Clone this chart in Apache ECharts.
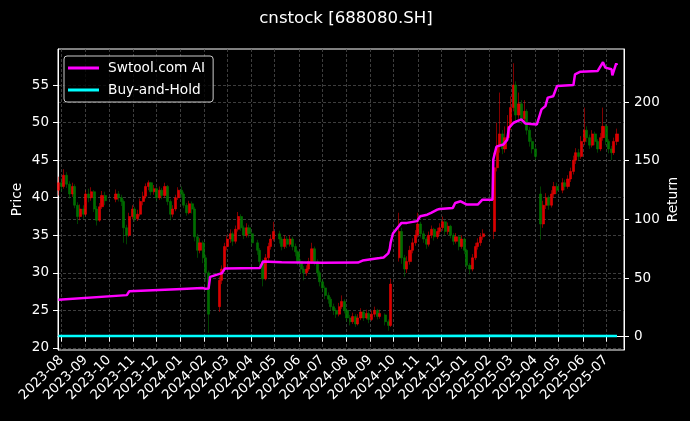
<!DOCTYPE html>
<html><head><meta charset="utf-8">
<script src="https://cdn.jsdelivr.net/npm/echarts@6/dist/echarts.min.js"></script>
<style>html,body{margin:0;padding:0;background:#000;}#c{width:690px;height:421px;}</style>
</head><body><div id="c"></div>
<script>
// ---- tick labels ----
const monthTicks = ['2023-08','2023-09','2023-10','2023-11','2023-12','2024-01','2024-02','2024-03','2024-04','2024-05','2024-06','2024-07','2024-08','2024-09','2024-10','2024-11','2024-12','2025-01','2025-02','2025-03','2025-04','2025-05','2025-06','2025-07'];
const priceTicks = [20, 25, 30, 35, 40, 45, 50, 55];
const returnTicks = [0, 50, 100, 150, 200];

// ---- price candles: two sessions a week (Fri, Tue, Fri, ...) from 2023-07-28; null = market closed
// [open, close, low, high]
const ohlc = [
/*0*/ [41.0,42.0,40.3,42.8],[42.0,41.5,40.8,42.6],[41.5,43.0,41.2,43.8],[43.0,41.8,41.3,43.4],[41.8,40.5,39.9,42.2],
/*5*/ [40.5,41.5,40.1,42.0],[41.5,39.0,38.6,41.8],[39.0,37.5,36.5,39.4],[37.5,38.5,37.0,39.1],[38.5,37.8,37.2,39.0],
/*10*/[37.8,40.5,37.6,41.0],[40.5,40.0,39.4,41.2],[40.0,40.8,39.6,41.4],[40.8,38.5,38.1,41.0],[38.5,37.0,36.3,38.9],
/*15*/[37.0,38.8,36.8,39.3],[38.8,40.3,38.5,40.9],[40.3,39.6,39.0,40.8],null,null,
/*20*/null,[39.8,40.5,39.4,41.1],[40.5,40.0,39.5,40.9],[40.0,39.5,38.9,40.4],[39.5,36.0,34.0,39.8],
/*25*/[36.0,35.0,33.8,36.4],[35.0,37.5,34.8,38.0],[37.5,38.5,37.1,39.0],[38.5,37.2,36.8,38.8],[37.2,37.8,36.9,38.4],
/*30*/[37.8,39.5,37.5,39.9],[39.5,40.2,39.0,40.8],[40.2,41.5,39.9,41.9],[41.5,42.0,41.0,42.3],[42.0,40.8,40.3,42.1],
/*35*/[40.8,41.2,40.4,41.7],[41.2,40.0,39.6,41.4],[40.0,41.0,39.7,41.5],[41.0,40.3,39.8,41.3],[40.3,41.5,40.0,42.0],
/*40*/[41.5,39.5,39.0,41.7],[39.5,37.8,37.0,39.8],[37.8,38.5,37.4,39.0],[38.5,40.0,38.2,40.4],[40.0,41.0,39.7,41.4],
/*45*/[41.0,40.5,40.0,41.5],[40.5,39.0,38.6,40.8],[39.0,38.0,37.6,39.3],[38.0,39.2,37.8,39.6],[39.2,38.5,37.9,39.5],
/*50*/[38.5,34.8,34.2,38.8],[34.8,33.0,32.0,35.2],[33.0,34.0,32.6,34.6],[34.0,32.0,31.3,34.3],[32.0,30.0,28.8,32.4],
/*55*/[30.0,24.5,22.0,30.3],null,null,null,[25.5,29.0,24.8,29.5],
/*60*/[29.0,30.5,28.5,31.0],[30.5,33.5,30.2,34.0],[33.5,34.5,33.0,35.0],[34.5,35.2,34.0,35.8],[35.2,34.2,33.6,35.5],
/*65*/[34.2,35.8,33.9,36.3],[35.8,37.5,35.5,38.1],[37.5,36.0,35.6,37.8],[36.0,35.0,34.5,36.3],[35.0,36.0,34.7,36.6],
/*70*/[36.0,35.2,34.7,36.4],[35.2,34.0,33.5,35.5],null,[34.0,33.0,32.4,34.4],[33.0,31.5,30.8,33.3],
/*75*/[31.5,29.2,28.2,31.8],[29.2,32.0,29.0,32.5],[32.0,33.5,31.6,34.0],[33.5,34.5,33.1,35.1],[34.5,35.5,34.2,36.8],
/*80*/null,[35.2,34.5,33.9,35.6],[34.5,33.5,33.0,34.8],[33.5,34.5,33.2,35.0],[34.5,33.8,33.3,34.9],
/*85*/[33.8,34.5,33.5,35.0],[34.5,33.5,33.0,34.8],[33.5,32.8,32.2,33.9],[32.8,31.5,31.0,33.0],[31.5,30.5,29.9,31.8],
/*90*/[30.5,30.0,29.0,30.9],[30.0,30.5,29.6,31.0],[30.5,31.5,30.2,32.0],[31.5,33.2,31.2,34.0],[33.2,31.5,31.0,33.5],
/*95*/[31.5,30.0,29.5,31.8],[30.0,28.8,28.2,30.3],[28.8,28.0,27.4,29.2],[28.0,27.0,26.5,28.3],[27.0,26.5,25.9,27.4],
/*100*/[26.5,25.5,25.0,26.8],[25.5,25.0,24.4,25.9],[25.0,24.5,24.0,25.3],[24.5,25.5,24.2,26.0],[25.5,26.2,25.2,27.0],
/*105*/[26.2,25.0,24.6,26.5],[25.0,24.0,23.5,25.3],[24.0,23.5,23.0,24.4],[23.5,24.2,23.2,24.7],[24.2,23.2,22.8,24.5],
/*110*/[23.2,24.0,23.0,24.5],[24.0,24.8,23.7,25.3],[24.8,24.0,23.6,25.0],[24.0,24.6,23.8,25.1],[24.6,23.8,23.3,24.9],
/*115*/[23.8,24.5,23.6,25.0],[24.5,25.0,24.1,25.5],[25.0,24.2,23.8,25.2],[24.2,24.6,23.9,25.1],null,
/*120*/[24.4,23.5,23.0,24.6],[23.5,23.0,22.3,23.8],[23.0,28.5,22.8,29.2],null,null,
/*125*/[32.0,35.5,31.5,38.0],[35.5,32.0,31.2,36.0],[32.0,30.5,29.5,32.4],[30.5,31.5,30.0,32.2],[31.5,33.0,31.1,33.6],
/*130*/[33.0,34.0,32.6,34.6],[34.0,35.0,33.6,35.7],[35.0,36.5,34.7,38.0],[36.5,35.2,34.7,36.8],[35.2,34.5,34.0,35.6],
/*135*/[34.5,33.8,33.2,34.8],[33.8,35.0,33.5,35.5],[35.0,35.8,34.6,36.3],[35.8,34.8,34.3,36.0],[34.8,35.5,34.5,36.0],
/*140*/[35.5,36.0,35.1,36.6],[36.0,36.8,35.6,37.5],[36.8,35.5,35.0,37.0],[35.5,36.2,35.1,36.7],[36.2,35.0,34.6,36.4],
/*145*/[35.0,34.2,33.7,35.3],[34.2,34.8,33.9,35.3],[34.8,33.5,33.0,35.0],[33.5,34.5,33.2,35.0],[34.5,33.0,32.5,34.7],
/*150*/[33.0,31.0,30.5,33.2],[31.0,30.5,29.8,31.3],[30.5,32.0,30.2,32.5],[32.0,33.5,31.7,34.0],[33.5,34.0,33.1,34.6],
/*155*/[34.0,34.8,33.6,35.3],[34.8,35.2,34.4,35.8],null,null,null,
/*160*/[35.5,44.0,34.5,46.0],[44.0,47.0,43.5,50.0],[47.0,48.5,46.0,54.0],[48.5,46.5,45.8,49.0],[46.5,48.0,46.0,49.5],
/*165*/[48.0,49.5,47.5,51.0],[49.5,52.0,49.0,53.5],[52.0,55.0,51.5,57.9],[55.0,51.0,50.2,55.5],[51.0,52.5,50.5,54.0],
/*170*/[52.5,50.5,49.8,53.0],[50.5,51.5,49.9,53.0],[51.5,49.0,48.4,51.8],[49.0,47.5,46.8,49.4],[47.5,46.5,45.9,48.0],
/*175*/[46.5,45.5,45.0,47.0],null,[40.5,36.5,34.4,41.5],[36.5,39.0,36.0,39.6],[39.0,40.0,38.5,40.6],
/*180*/[40.0,39.0,38.4,40.3],[39.0,40.5,38.7,41.0],[40.5,41.5,40.0,42.1],[41.5,41.0,40.5,42.0],null,
/*185*/[41.0,42.0,40.6,42.6],[42.0,41.5,41.0,42.4],[41.5,42.5,41.2,43.0],[42.5,43.5,42.1,44.0],[43.5,45.0,43.1,45.6],
/*190*/[45.0,46.0,44.5,46.6],[46.0,45.5,45.0,46.5],[45.5,47.5,45.2,48.2],[47.5,49.0,47.0,52.0],[49.0,48.0,47.4,49.5],
/*195*/[48.0,47.0,46.5,48.4],[47.0,48.5,46.7,49.0],[48.5,47.5,47.0,48.8],[47.5,46.5,46.0,47.8],[46.5,48.0,46.2,48.6],
/*200*/[48.0,49.5,47.6,52.0],[49.5,47.5,47.0,49.8],[47.5,46.5,45.9,47.8],[46.5,46.0,45.0,46.9],[46.0,47.5,45.7,48.0],
/*205*/[47.5,48.5,47.0,49.2]
];

// ---- strategy return (%), read at its turning points ----
const aiReturn = [
['2023-07-28',31.4],['2023-10-24',35.4],['2023-10-27',38.6],['2023-12-27',40.5],['2023-12-29',41.6],
['2024-01-29',41.4],['2024-02-02',40.8],['2024-02-06',41.0],['2024-02-08',51.0],['2024-02-20',53.5],
['2024-02-23',54.0],['2024-02-27',58.0],['2024-04-12',58.5],['2024-04-16',64.0],['2024-05-10',63.5],
['2024-07-01',63.0],['2024-08-16',63.2],['2024-08-22',64.9],['2024-09-13',67.0],['2024-09-18',67.5],
['2024-09-24',71.0],['2024-09-26',75.0],['2024-09-27',80.0],['2024-09-30',88.0],['2024-10-08',94.5],
['2024-10-11',97.0],['2024-10-18',97.0],['2024-10-31',98.5],['2024-11-04',102.6],['2024-11-13',104.0],
['2024-11-18',105.5],['2024-11-26',108.3],['2024-11-29',108.9],['2024-12-16',109.8],['2024-12-19',114.0],
['2024-12-26',115.4],['2025-01-03',112.6],['2025-01-17',112.6],['2025-01-23',116.8],['2025-02-05',116.8],
['2025-02-06',151.0],['2025-02-10',162.0],['2025-02-19',163.8],['2025-02-24',168.0],['2025-02-26',178.0],
['2025-03-04',182.4],['2025-03-14',185.2],['2025-03-19',181.8],['2025-04-03',181.0],['2025-04-09',193.8],
['2025-04-14',196.6],['2025-04-17',203.8],['2025-04-24',205.0],['2025-04-29',213.7],['2025-05-20',214.5],
['2025-05-22',223.7],['2025-05-29',226.0],['2025-06-20',226.5],['2025-06-27',234.0],['2025-06-30',229.4],
['2025-07-08',228.0],['2025-07-09',222.8],['2025-07-11',224.0],['2025-07-14',233.0],['2025-07-15',231.4]
];

// ---- buy-and-hold return ----
const bhReturn = [
['2023-07-28',0.6],['2024-02-06',0.5],['2024-09-30',0.5],['2025-02-06',0.7],['2025-07-15',0.6]
];

const ts = s => { const p = s.split('-').map(Number); return new Date(p[0], p[1] - 1, p[2] || 1).getTime(); };
function sessionDate(i) {
  const d = new Date(2023, 6, 28);
  d.setDate(d.getDate() + Math.floor(i / 2) * 7 + (i % 2 ? 4 : 0));
  return d.getTime();
}
const candleData = [];
ohlc.forEach((v, i) => { if (v) candleData.push([sessionDate(i), v[0], v[1], v[2], v[3]]); });
const aiData = aiReturn.map(p => [ts(p[0]), p[1]]);
const bhData = bhReturn.map(p => [ts(p[0]), p[1]]);

const monthValues = monthTicks.map(ts);
const pad2 = n => (n < 10 ? '0' : '') + n;
const fmtMonth = v => { const d = new Date(v); return d.getFullYear() + '-' + pad2(d.getMonth() + 1); };

const FONT = 'DejaVu Sans';
const gridLine = { show: true, lineStyle: { color: '#4d4d4d', width: 0.8, type: [3, 2] } };

const chart = echarts.init(document.getElementById('c'), null, { renderer: 'canvas' });
chart.setOption({
  backgroundColor: '#000',
  animation: false,
  textStyle: { fontFamily: FONT },
  title: {
    text: 'cnstock [688080.SH]', left: 341, top: 5, textAlign: 'center',
    textStyle: { color: '#fff', fontSize: 16.6, fontWeight: 'normal', fontFamily: FONT }
  },
  legend: {
    data: ['Swtool.com AI', 'Buy-and-Hold'],
    orient: 'vertical', left: 64, top: 56,
    padding: [4, 8, 4, 4], itemGap: 6,
    itemWidth: 31, itemHeight: 3, icon: 'rect',
    backgroundColor: 'rgba(0,0,0,0.8)', borderColor: '#cccccc', borderWidth: 1, borderRadius: 3,
    textStyle: { color: '#fff', fontSize: 13.7, fontFamily: FONT, padding: [0, 0, 0, 4], lineHeight: 16 }
  },
  grid: { left: 58, right: 66, top: 49, bottom: 71, containLabel: false, outerBoundsMode: 'none',
          show: true, borderColor: '#fff', borderWidth: 1, backgroundColor: 'transparent' },
  xAxis: {
    type: 'value',
    min: new Date(2023, 6, 27, 12).getTime(),
    max: new Date(2025, 6, 24).getTime(),
    axisLine: { show: true, lineStyle: { color: '#fff', width: 1 } },
    axisTick: { show: true, customValues: monthValues, length: 5, inside: false, lineStyle: { color: '#fff' } },
    axisLabel: { customValues: monthValues, rotate: 45, margin: 8, color: '#fff', fontSize: 13.5, fontFamily: FONT, formatter: fmtMonth },
    splitLine: gridLine
  },
  yAxis: [
    {
      type: 'value', position: 'left', min: 19.73, max: 59.8,
      name: 'Price', nameLocation: 'middle', nameGap: 34, nameRotate: 90, nameMoveOverlap: false,
      nameTextStyle: { color: '#fff', fontSize: 13.7, fontFamily: FONT },
      axisLine: { show: true, lineStyle: { color: '#fff' } },
      axisTick: { show: true, customValues: priceTicks, length: 5, lineStyle: { color: '#fff' } },
      axisLabel: { customValues: priceTicks, margin: 9, color: '#fff', fontSize: 13.5, fontFamily: FONT },
      splitLine: gridLine
    },
    {
      type: 'value', position: 'right', min: -11.4, max: 245.3,
      name: 'Return', nameLocation: 'middle', nameGap: 42, nameRotate: 90, nameMoveOverlap: false,
      nameTextStyle: { color: '#fff', fontSize: 13.7, fontFamily: FONT },
      axisLine: { show: true, lineStyle: { color: '#fff' } },
      axisTick: { show: true, customValues: returnTicks, length: 5, lineStyle: { color: '#fff' } },
      axisLabel: { customValues: returnTicks, margin: 10, color: '#fff', fontSize: 13.5, fontFamily: FONT },
      splitLine: gridLine
    }
  ],
  series: [
    {
      name: 'Price', type: 'candlestick', xAxisIndex: 0, yAxisIndex: 0,
      dimensions: ['date', 'open', 'close', 'lowest', 'highest'],
      encode: { x: 0, y: [1, 2, 3, 4] },
      data: candleData, barWidth: 2.6,
      itemStyle: { color: '#ff0000', color0: '#008000', borderColor: '#ff0000', borderColor0: '#008000', borderWidth: 0.6, opacity: 0.85 },
      z: 2
    },
    {
      name: 'Swtool.com AI', type: 'line', yAxisIndex: 1, data: aiData,
      showSymbol: false, symbol: 'none', lineStyle: { color: '#ff00ff', width: 2.5 }, itemStyle: { color: '#ff00ff' }, z: 5
    },
    {
      name: 'Buy-and-Hold', type: 'line', yAxisIndex: 1, data: bhData,
      showSymbol: false, symbol: 'none', lineStyle: { color: '#00ffff', width: 2.5 }, itemStyle: { color: '#00ffff' }, z: 5
    }
  ]
});
</script></body></html>
